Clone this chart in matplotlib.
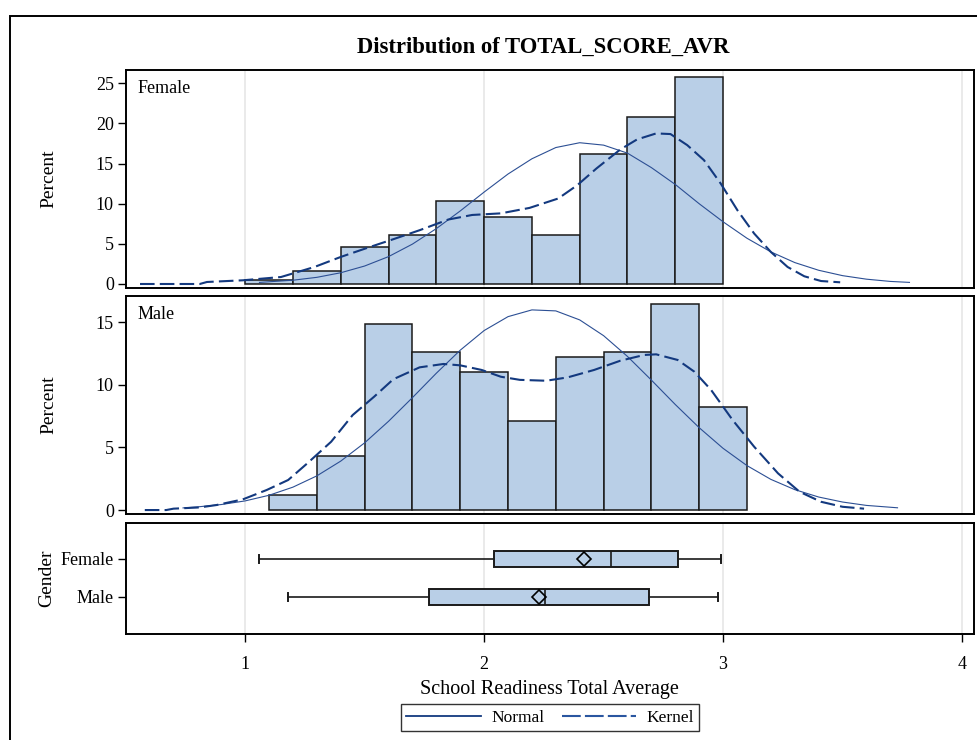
import matplotlib
matplotlib.use("Agg")
import matplotlib.pyplot as plt
from matplotlib.lines import Line2D
from matplotlib.patches import Rectangle
import numpy as np

# Histogram bins (percent per bin)
female_edges = [1.0, 1.2, 1.4, 1.6, 1.8, 2.0, 2.2, 2.4, 2.6, 2.8, 3.0]
female_pct = [0.45, 1.6, 4.6, 6.1, 10.3, 8.4, 6.1, 16.2, 20.8, 25.8]

male_edges = [1.1, 1.3, 1.5, 1.7, 1.9, 2.1, 2.3, 2.5, 2.7, 2.9, 3.1]
male_pct = [1.2, 4.3, 14.9, 12.6, 11.0, 7.1, 12.2, 12.6, 16.5, 8.2]

# Fitted curves
female_normal_x = [1.06, 1.2, 1.3, 1.4, 1.5, 1.6, 1.7, 1.8, 1.9, 2.0, 2.1, 2.2, 2.3,
                   2.4, 2.5, 2.6, 2.7, 2.8, 2.9, 3.0, 3.1, 3.2, 3.3, 3.4, 3.5, 3.6,
                   3.7, 3.78]
female_normal_y = [0.2, 0.47, 0.83, 1.4, 2.24, 3.41, 4.97, 6.9, 9.1, 11.45, 13.7, 15.6, 17.0,
                   17.6, 17.3, 16.3, 14.5, 12.4, 10.0, 7.75, 5.7, 4.0, 2.67, 1.71, 1.04, 0.6,
                   0.32, 0.2]

female_kernel_x = [0.56, 0.81, 0.84, 0.99, 1.15, 1.29, 1.40, 1.51, 1.62, 1.73, 1.85,
                   1.95, 2.07, 2.19, 2.31, 2.39, 2.47, 2.57, 2.64, 2.72, 2.78, 2.85,
                   2.92, 2.99, 3.06, 3.13, 3.20, 3.27, 3.34, 3.41, 3.49]
female_kernel_y = [0.0, 0.0, 0.25, 0.46, 0.87, 2.12, 3.37, 4.49, 5.58, 6.70, 8.03,
                   8.6, 8.8, 9.48, 10.65, 12.31, 14.39, 16.76, 18.01, 18.76, 18.68, 17.30,
                   15.43, 12.52, 9.19, 6.29, 3.99, 2.12, 0.96, 0.37, 0.21]

male_normal_x = [0.74, 0.8, 0.9, 1.0, 1.1, 1.2, 1.3, 1.4, 1.5, 1.6, 1.7, 1.8, 1.9,
                 2.0, 2.1, 2.2, 2.3, 2.4, 2.5, 2.6, 2.7, 2.8, 2.9, 3.0, 3.1, 3.2,
                 3.3, 3.4, 3.5, 3.6, 3.73]
male_normal_y = [0.17, 0.25, 0.44, 0.73, 1.18, 1.83, 2.73, 3.91, 5.37, 7.09, 8.98, 10.93, 12.77,
                 14.34, 15.45, 15.99, 15.91, 15.19, 13.93, 12.27, 10.38, 8.43, 6.58, 4.93, 3.55, 2.45,
                 1.63, 1.04, 0.64, 0.37, 0.18]

male_kernel_x = [0.58, 0.67, 0.70, 0.81, 0.88, 0.99, 1.09, 1.18, 1.26, 1.36, 1.45,
                 1.54, 1.62, 1.73, 1.83, 1.90, 1.99, 2.07, 2.15, 2.26, 2.35, 2.46,
                 2.57, 2.67, 2.72, 2.81, 2.88, 2.95, 3.04, 3.13, 3.23, 3.32, 3.41,
                 3.50, 3.59]
male_kernel_y = [0.0, 0.0, 0.11, 0.21, 0.40, 0.85, 1.60, 2.40, 3.73, 5.46, 7.59,
                 9.06, 10.45, 11.40, 11.67, 11.56, 11.19, 10.65, 10.40, 10.33, 10.6, 11.19,
                 11.93, 12.39, 12.44, 11.99, 11.05, 9.59, 7.19, 5.06, 2.93, 1.46, 0.66,
                 0.26, 0.11]

# Box plot summary
genders = ["Male", "Female"]
box_min = [1.18, 1.06]
box_q1 = [1.77, 2.04]
box_median = [2.255, 2.53]
box_q3 = [2.69, 2.81]
box_max = [2.98, 2.99]
box_mean = [2.23, 2.42]

x_ticks = [1, 2, 3, 4]

fill_color = "#b9cfe7"
normal_color = "#2c4f94"
kernel_color = "#13397f"
grid_color = "#e6e6e6"

plt.rcParams['font.family'] = ['Liberation Serif', 'DejaVu Serif']

fig = plt.figure(figsize=(9.78, 7.40), dpi=100)

left = 0.1285
width = 0.8674
ax1 = fig.add_axes([left, 0.6108, width, 0.2946])
ax2 = fig.add_axes([left, 0.3050, width, 0.2950])
ax3 = fig.add_axes([left, 0.1432, width, 0.1504])


def style_axes(ax):
    for spine in ax.spines.values():
        spine.set_linewidth(1.4)
        spine.set_color("black")
    ax.set_xlim(0.5, 4.05)
    ax.set_xticks(x_ticks)
    ax.grid(axis='x', color=grid_color, linewidth=1.2)
    ax.set_axisbelow(True)
    ax.tick_params(axis='y', direction='out', length=5.5, width=1.0, labelsize=13, pad=3)


def hist_panel(ax, edges, pct, nx, ny, kx, ky, label, ylim, yticks):
    style_axes(ax)
    ax.bar(edges[:-1], pct, width=np.diff(edges), align='edge',
           color=fill_color, edgecolor="#1a1a1a", linewidth=1.1, zorder=2)
    ax.plot(nx, ny, color=normal_color, linewidth=0.8, zorder=3)
    ax.plot(kx, ky, color=kernel_color, linewidth=1.5, dashes=(7, 2.5), zorder=3)
    ax.set_ylim(*ylim)
    ax.set_yticks(yticks)
    ax.tick_params(axis='x', bottom=False, labelbottom=False)
    ax.text(0.0135, 0.955, label, transform=ax.transAxes, fontsize=13, va='top', ha='left')
    ax.set_ylabel("Percent", fontsize=14, va='center')
    ax.yaxis.set_label_coords(-0.091, 0.5)


hist_panel(ax1, female_edges, female_pct, female_normal_x, female_normal_y,
           female_kernel_x, female_kernel_y, "Female", (-0.5, 26.66), [0, 5, 10, 15, 20, 25])
hist_panel(ax2, male_edges, male_pct, male_normal_x, male_normal_y,
           male_kernel_x, male_kernel_y, "Male", (-0.34, 17.1), [0, 5, 10, 15])

# Box plot panel
style_axes(ax3)
stats = []
for i in range(len(genders)):
    stats.append({
        'label': genders[i],
        'whislo': box_min[i], 'q1': box_q1[i], 'med': box_median[i],
        'q3': box_q3[i], 'whishi': box_max[i], 'mean': box_mean[i], 'fliers': [],
    })
ax3.bxp(stats, positions=[0, 1], widths=0.41, orientation='horizontal',
        showmeans=True, patch_artist=True, showfliers=False, capwidths=0.2,
        boxprops=dict(facecolor=fill_color, edgecolor="#1a1a1a", linewidth=1.4),
        medianprops=dict(color="#1a1a1a", linewidth=1.2),
        whiskerprops=dict(color="#1a1a1a", linewidth=1.2),
        capprops=dict(color="#1a1a1a", linewidth=1.4),
        meanprops=dict(marker='D', markersize=7.5, markerfacecolor='none',
                       markeredgecolor='black', markeredgewidth=1.2))
ax3.set_ylim(-0.97, 1.945)
ax3.set_xlim(0.5, 4.05)
ax3.set_xticks(x_ticks)
ax3.set_xticklabels([str(t) for t in x_ticks])
ax3.tick_params(axis='x', direction='out', length=5.5, width=1.0, labelsize=13, pad=10)
ax3.set_ylabel("Gender", fontsize=14, va='center')
ax3.yaxis.set_label_coords(-0.093, 0.5)
ax3.set_xlabel("School Readiness Total Average", fontsize=14.5, labelpad=5)

# Title
fig.text(0.5557, 0.9365, "Distribution of TOTAL_SCORE_AVR", fontsize=16.3,
         fontweight='bold', ha='center', va='center')

# Legend
handles = [Line2D([], [], color="#13397f", linewidth=1.3),
           Line2D([], [], color="#2a56a0", linewidth=1.5, dashes=(9, 2))]
fig.legend(handles, ["Normal", "Kernel"], loc='center', ncol=2,
           bbox_to_anchor=(0.5624, 0.0304), fontsize=12.5, frameon=True,
           fancybox=False, edgecolor='black', handlelength=4.3,
           handletextpad=0.6, columnspacing=1.0, borderpad=0.3)
fig.legends[0].get_frame().set_linewidth(1.0)

# Outer frame
fig.patches.append(Rectangle((0.0102, -0.2), 1.5, 0.9784 + 0.2, transform=fig.transFigure,
                             fill=False, edgecolor='black', linewidth=1.4))

fig.savefig("out.png", dpi=100)
